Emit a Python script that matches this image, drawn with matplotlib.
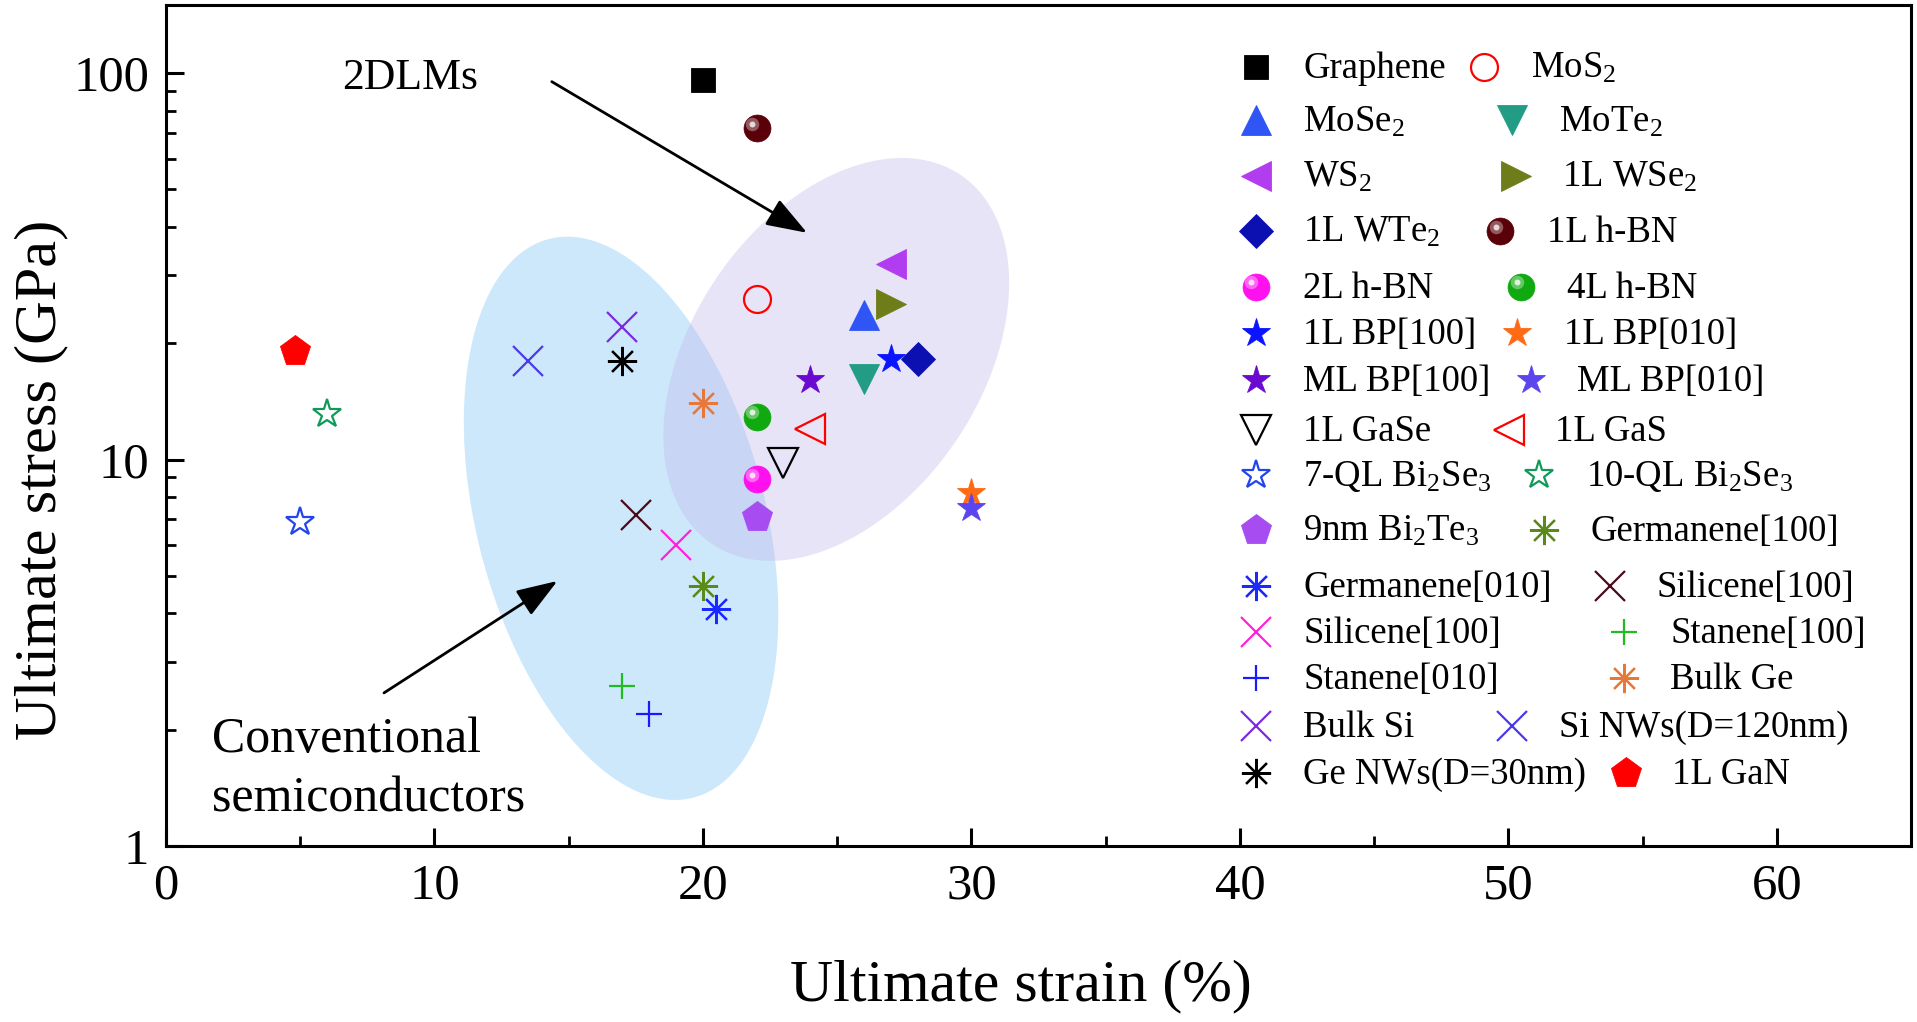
"""
Ultimate stress vs ultimate strain of 2D layered materials and conventional semiconductors.
"""
import numpy as np
import matplotlib
matplotlib.use("Agg")
import matplotlib.pyplot as plt
from matplotlib.patches import Polygon
from matplotlib.ticker import MultipleLocator, FuncFormatter, NullFormatter, LogLocator
from matplotlib.transforms import ScaledTranslation

plt.rcParams["font.family"] = ["Liberation Serif", "DejaVu Serif"]
plt.rcParams["mathtext.fontset"] = "custom"
plt.rcParams["mathtext.rm"] = "Liberation Serif"
plt.rcParams["mathtext.default"] = "regular"

# ---- data (legend order: left column = even index, right column = odd index)
materials = ["Graphene", "MoS$_2$",
             "MoSe$_2$", "MoTe$_2$",
             "WS$_2$", "1L WSe$_2$",
             "1L WTe$_2$", "1L h-BN",
             "2L h-BN", "4L h-BN",
             "1L BP[100]", "1L BP[010]",
             "ML BP[100]", "ML BP[010]",
             "1L GaSe", "1L GaS",
             "7-QL Bi$_2$Se$_3$", "10-QL Bi$_2$Se$_3$",
             "9nm Bi$_2$Te$_3$", "Germanene[100]",
             "Germanene[010]", "Silicene[100]",
             "Silicene[100] ", "Stanene[100]",
             "Stanene[010]", "Bulk Ge",
             "Bulk Si", "Si NWs(D=120nm)",
             "Ge NWs(D=30nm)", "1L GaN"]
strain = [20, 22,
          26, 26,
          27, 27,
          28, 22,
          22, 22,
          27, 30,
          24, 30,
          23, 24,
          5, 6,
          22, 20,
          20.5, 17.5,
          19, 17,
          18, 20,
          17, 13.5,
          17, 4.8]
stress = [96, 26,
          23.7, 16.2,
          32, 25.2,
          18.2, 72,
          8.9, 12.9,
          18.2, 8.2,
          16.1, 7.5,
          9.8, 12.0,
          6.9, 13.1,
          7.1, 4.7,
          4.1, 7.2,
          6.0, 2.6,
          2.2, 14.0,
          22.0, 18.0,
          18.0, 19.1]

# ---- styles: marker, colour, kind, size (pt)
AST = (8, 2, 0)
styles = [("s", "#000000", "fill", 17.6), ("o", "#ff0000", "open", 19.4),
          ("^", "#2f55f5", "fill", 22), ("v", "#229c85", "fill", 22),
          ("<", "#b23cf0", "fill", 22), (">", "#6e7d1a", "fill", 22),
          ("D", "#0c10b0", "fill", 17), ("o", "#5a0008", "sphere", 19.4),
          ("o", "#ff10ee", "sphere", 19.4), ("o", "#10aa10", "sphere", 19.4),
          ("*", "#0a14ff", "fill", 21), ("*", "#ff6a14", "fill", 21),
          ("*", "#6a0ad0", "fill", 21), ("*", "#5a45ee", "fill", 21),
          ("v", "#000000", "open", 22), ("<", "#ff0000", "open", 22),
          ("*", "#2244ee", "open", 21), ("*", "#11995a", "open", 21),
          ("p", "#a64cf0", "fill", 23), (AST, "#5a8a1a", "line", 21),
          (AST, "#1a2aff", "line", 21), ("x", "#4a0a1a", "line", 21.5),
          ("x", "#ff22dd", "line", 21.5), ("+", "#22bb22", "line", 19),
          ("+", "#1a1aff", "line", 19), (AST, "#e87838", "line", 21),
          ("x", "#7b2be0", "line", 21.5), ("x", "#4a3ae8", "line", 21.5),
          (AST, "#000000", "line", 21), ("p", "#ff0000", "fill", 23)]

W, H = 1568, 836          # reference layout grid (pixels)


def fpos(px, py):
    return px / W, 1 - py / H


def lighten(c, f):
    rgb = np.array(matplotlib.colors.to_rgb(c))
    return tuple(rgb + (1 - rgb) * f)


fig = plt.figure(figsize=(19.17, 10.22), dpi=100, facecolor="white")
ax = fig.add_axes([166 / 1917, 1 - 846 / 1022, (1911 - 166) / 1917, (846 - 5) / 1022])
ax.set_yscale("log")


def draw(x, y, st, tr, z=4):
    m, c, kind, ms = st
    kw = dict(ls="none", marker=m, ms=ms, transform=tr, clip_on=False, zorder=z)
    if kind == "fill":
        ax.plot([x], [y], mfc=c, mec=c, mew=0.6, **kw)
    elif kind == "open":
        ax.plot([x], [y], mfc="none", mec=c, mew=1.6, **kw)
    elif kind == "line":
        ax.plot([x], [y], color=c, mew=1.6, **kw)
    else:  # shaded sphere
        ax.plot([x], [y], mfc=c, mec=c, mew=0.5, **kw)
        off = ScaledTranslation(-ms * 0.16 / 72, ms * 0.16 / 72, fig.dpi_scale_trans)
        kw2 = dict(kw, transform=tr + off)
        kw2["ms"] = ms * 0.5
        ax.plot([x], [y], mfc=lighten(c, 0.35), mec="none", **kw2)
        kw2["ms"] = ms * 0.22
        ax.plot([x], [y], mfc=lighten(c, 0.85), mec="none", **kw2)


# ---- shaded regions (drawn in layout pixels)
def ellipse(cx, cy, a, b, ang, **kw):
    t = np.linspace(0, 2 * np.pi, 200)
    th = np.deg2rad(ang)
    dx = a * np.cos(t) * np.cos(th) - b * np.sin(t) * np.sin(th)
    dy = a * np.cos(t) * np.sin(th) + b * np.sin(t) * np.cos(th)
    pts = np.column_stack([(cx + dx) / W, 1 - (cy - dy) / H])
    p = Polygon(pts, closed=True, transform=fig.transFigure, lw=0, **kw)
    ax.add_patch(p)


ellipse(508, 424, 236, 118, 104.5, facecolor="#cde8fb", zorder=1)
ellipse(684, 294, 182, 118.5, 56, facecolor="#c1b6ea", alpha=0.36, zorder=2)

# ---- data points
for x, y, st in zip(strain, stress, styles):
    draw(x, y, st, ax.transData)

# ---- manual legend
row_y = [54.5, 98.5, 144, 189, 234.5, 272, 311, 352, 388.5, 433.5, 479, 517, 555, 594, 632]
right_mx = [1214, 1237, 1240, 1227, 1244, 1241, 1252, 1234, 1259, 1263, 1317, 1328, 1328, 1237, 1330]
for i, ry in enumerate(row_y):
    for k, (mx, tx) in enumerate([(1027, 1066), (right_mx[i], right_mx[i] + 38)]):
        j = 2 * i + k
        draw(*fpos(mx, ry), styles[j], fig.transFigure, z=5)
        fig.text(*fpos(tx, ry + 9), materials[j].strip(), fontsize=26.5,
                 ha="left", va="baseline")

# ---- annotations
ax.text(6.55, 90.8, "2DLMs", fontsize=31.5, ha="left", va="baseline")
ax.text(1.73, 1.753, "Conventional", fontsize=36, ha="left", va="baseline")
ax.text(1.73, 1.226, "semiconductors", fontsize=36, ha="left", va="baseline")
arrow = dict(arrowstyle="-|>,head_length=0.9,head_width=0.32", lw=2, color="black",
             shrinkA=0, shrinkB=0, mutation_scale=28)
ax.annotate("", xy=(23.88, 38.6), xytext=(14.37, 95), arrowprops=arrow, zorder=6)
ax.annotate("", xy=(14.58, 4.85), xytext=(8.12, 2.49), arrowprops=arrow, zorder=6)

# ---- axes
ax.set_xlim(0, 65)
ax.set_ylim(1, 150)
ax.xaxis.set_major_locator(MultipleLocator(10))
ax.xaxis.set_minor_locator(MultipleLocator(5))
ax.yaxis.set_major_locator(LogLocator(base=10))
ax.yaxis.set_minor_locator(LogLocator(base=10, subs=np.arange(2, 10)))
ax.yaxis.set_major_formatter(FuncFormatter(lambda v, p: f"{v:g}"))
ax.yaxis.set_minor_formatter(NullFormatter())
ax.tick_params(which="major", direction="in", length=13, width=2.2, labelsize=36.5, pad=12,
               top=False, right=False)
ax.tick_params(which="minor", direction="in", length=7.5, width=2, top=False, right=False)
for s in ax.spines.values():
    s.set_linewidth(2.2)

ax.set_xlabel("Ultimate strain (%)", fontsize=43)
ax.set_ylabel("Ultimate stress (GPa)", fontsize=43.5)
ax.xaxis.set_label_coords(0.49, -0.135)
ax.yaxis.set_label_coords(-0.056, 0.435)

fig.savefig("out.png", dpi=100, facecolor="white")
